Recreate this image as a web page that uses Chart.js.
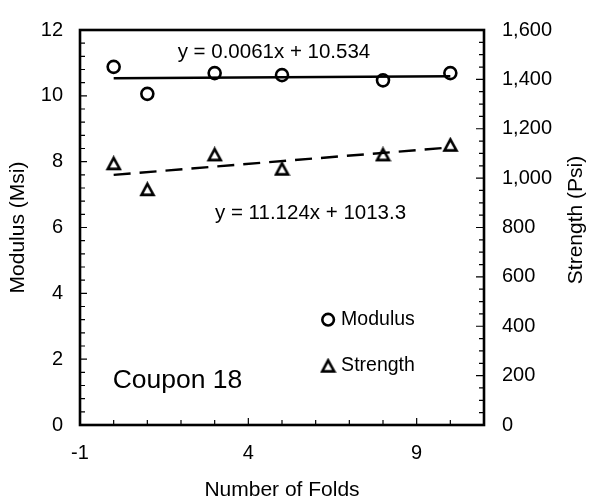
<!DOCTYPE html>
<html>
<head>
<meta charset="utf-8">
<script src="https://cdn.jsdelivr.net/npm/chart.js@4/dist/chart.umd.min.js"></script>
<style>
  html, body { margin: 0; padding: 0; background: #fff; }
  #wrap { width: 590px; height: 504px; }
</style>
</head>
<body>
<div id="wrap"><canvas id="foldChart" width="590" height="504"></canvas></div>
<script>
// 折數 vs 模量 / 強度
const folds = [0, 1, 3, 5, 8, 10];
const modulus = [10.88, 10.06, 10.69, 10.63, 10.47, 10.69];     // Msi
const strength = [1060, 955, 1096, 1038, 1096, 1135];           // Psi

// 趨勢線方程式 (y = slope * x + intercept)
const modulusFit = { slope: 0.0061, intercept: 10.534 };
const strengthFit = { slope: 11.124, intercept: 1013.3 };

// 刻度
const xTicks = [-1, 4, 9];
const yTicks = [0, 2, 4, 6, 8, 10, 12];
const y1Ticks = [0, 200, 400, 600, 800, 1000, 1200, 1400, 1600];

const FONT = 'Liberation Sans, Arial, sans-serif';

function fitLine(fit) {
    const x0 = folds[0], x1 = folds[folds.length - 1];
    return [
        { x: x0, y: fit.slope * x0 + fit.intercept },
        { x: x1, y: fit.slope * x1 + fit.intercept }
    ];
}

// 三角形 marker（以外框中心對齊）
function makeTriangle(w, h, lw) {
    const c = document.createElement('canvas');
    c.width = w + lw * 2;
    c.height = h + lw * 2;
    const g = c.getContext('2d');
    g.lineWidth = lw;
    g.strokeStyle = '#000';
    g.lineJoin = 'miter';
    g.beginPath();
    g.moveTo(c.width / 2, lw);
    g.lineTo(lw, lw + h);
    g.lineTo(lw + w, lw + h);
    g.closePath();
    g.stroke();
    return c;
}
const triangleImg = makeTriangle(12, 11, 2.6);

// 外框、內側刻度、文字註解
const decorPlugin = {
    id: 'decor',
    afterDraw(chart) {
        const { ctx, chartArea: a, scales } = chart;
        const sx = scales.x, sy = scales.y, sy1 = scales.y1;
        ctx.save();
        ctx.strokeStyle = '#000';

        // 內側刻度
        ctx.lineWidth = 1.2;
        ctx.beginPath();
        for (let v = -1; v <= 11; v += 1) {
            const px = sx.getPixelForValue(v);
            const len = xTicks.includes(v) ? 7 : 5;
            ctx.moveTo(px, a.bottom);
            ctx.lineTo(px, a.bottom - len);
        }
        for (let i = 0; i <= 30; i++) {
            const v = i * 0.4;
            const py = sy.getPixelForValue(v);
            const len = i % 5 === 0 ? 7 : 5;
            ctx.moveTo(a.left, py);
            ctx.lineTo(a.left + len, py);
        }
        for (let v = 0; v <= 1600; v += 50) {
            const py = sy1.getPixelForValue(v);
            const len = v % 200 === 0 ? 8 : 5;
            ctx.moveTo(a.right, py);
            ctx.lineTo(a.right - len, py);
        }
        ctx.stroke();

        // 外框
        ctx.lineWidth = 2.6;
        ctx.strokeRect(a.left, a.top, a.right - a.left, a.bottom - a.top);

        // 方程式與標籤
        ctx.fillStyle = '#000';
        ctx.textAlign = 'left';
        ctx.textBaseline = 'middle';
        ctx.font = '20.5px ' + FONT;
        ctx.fillText('y = ' + modulusFit.slope + 'x + ' + modulusFit.intercept,
            sx.getPixelForValue(1.9), sy.getPixelForValue(11.32));
        ctx.fillText('y = ' + strengthFit.slope + 'x + ' + strengthFit.intercept,
            sx.getPixelForValue(3.01), sy.getPixelForValue(6.43));

        ctx.font = '26.5px ' + FONT;
        ctx.fillText('Coupon 18', sx.getPixelForValue(-0.03), sy.getPixelForValue(1.36));

        // 圖例
        ctx.font = '19.5px ' + FONT;
        const lx = sx.getPixelForValue(6.37);
        const ly1 = sy.getPixelForValue(3.2);
        const ly2 = sy.getPixelForValue(1.8);
        ctx.lineWidth = 2.6;
        ctx.beginPath();
        ctx.arc(lx, ly1, 5.8, 0, Math.PI * 2);
        ctx.stroke();
        ctx.drawImage(triangleImg, lx - triangleImg.width / 2, ly2 - triangleImg.height / 2);
        ctx.fillText('Modulus', lx + 13, ly1);
        ctx.fillText('Strength', lx + 13, ly2);

        // 右側軸標題（由下往上）
        ctx.font = '21px ' + FONT;
        ctx.textAlign = 'center';
        ctx.translate(576, 220);
        ctx.rotate(-Math.PI / 2);
        ctx.fillText('Strength (Psi)', 0, 0);
        ctx.restore();
    }
};

const ctx = document.getElementById('foldChart').getContext('2d');
const foldChart = new Chart(ctx, {
    type: 'scatter',
    data: {
        datasets: [
            {
                label: 'Modulus fit',
                type: 'line',
                data: fitLine(modulusFit),
                yAxisID: 'y',
                borderColor: '#000',
                borderWidth: 2.4,
                pointRadius: 0,
                fill: false
            },
            {
                label: 'Strength fit',
                type: 'line',
                data: fitLine(strengthFit),
                yAxisID: 'y1',
                borderColor: '#000',
                borderWidth: 2.4,
                borderDash: [17, 9],
                pointRadius: 0,
                fill: false
            },
            {
                label: 'Modulus',
                data: folds.map((x, i) => ({ x: x, y: modulus[i] })),
                yAxisID: 'y',
                pointStyle: 'circle',
                pointRadius: 6,
                pointBorderWidth: 2.6,
                pointBorderColor: '#000',
                pointBackgroundColor: 'rgba(0,0,0,0)'
            },
            {
                label: 'Strength',
                data: folds.map((x, i) => ({ x: x, y: strength[i] })),
                yAxisID: 'y1',
                pointStyle: triangleImg
            }
        ]
    },
    options: {
        responsive: false,
        animation: false,
        devicePixelRatio: 1,
        layout: { padding: { top: 20, left: 0, right: 0, bottom: 0 } },
        plugins: {
            legend: { display: false },
            tooltip: { enabled: false }
        },
        scales: {
            x: {
                type: 'linear',
                position: 'bottom',
                min: -1,
                max: 11,
                afterBuildTicks: (s) => { s.ticks = xTicks.map(v => ({ value: v })); },
                afterFit: (s) => { s.height = 79; },
                grid: { display: false, drawTicks: false },
                border: { display: false },
                ticks: { color: '#000', font: { family: FONT, size: 20 }, padding: 16, maxRotation: 0 },
                title: {
                    display: true,
                    text: 'Number of Folds',
                    color: '#000',
                    font: { family: FONT, size: 21 },
                    padding: { top: 0, bottom: 1.5 }
                }
            },
            y: {
                type: 'linear',
                position: 'left',
                min: 0,
                max: 12,
                afterBuildTicks: (s) => { s.ticks = yTicks.map(v => ({ value: v })); },
                afterFit: (s) => { s.width = 80; },
                grid: { display: false, drawTicks: false },
                border: { display: false },
                ticks: { color: '#000', font: { family: FONT, size: 20 }, padding: 17 },
                title: {
                    display: true,
                    text: 'Modulus (Msi)',
                    color: '#000',
                    font: { family: FONT, size: 21 },
                    padding: { top: 5.5, bottom: 0 }
                }
            },
            y1: {
                type: 'linear',
                position: 'right',
                min: 0,
                max: 1600,
                afterBuildTicks: (s) => { s.ticks = y1Ticks.map(v => ({ value: v })); },
                afterFit: (s) => { s.width = 106; },
                grid: { display: false, drawTicks: false },
                border: { display: false },
                ticks: {
                    color: '#000',
                    font: { family: FONT, size: 20 },
                    padding: 18,
                    callback: (v) => v.toLocaleString('en-US')
                }
            }
        }
    },
    plugins: [decorPlugin]
});
</script>
</body>
</html>
